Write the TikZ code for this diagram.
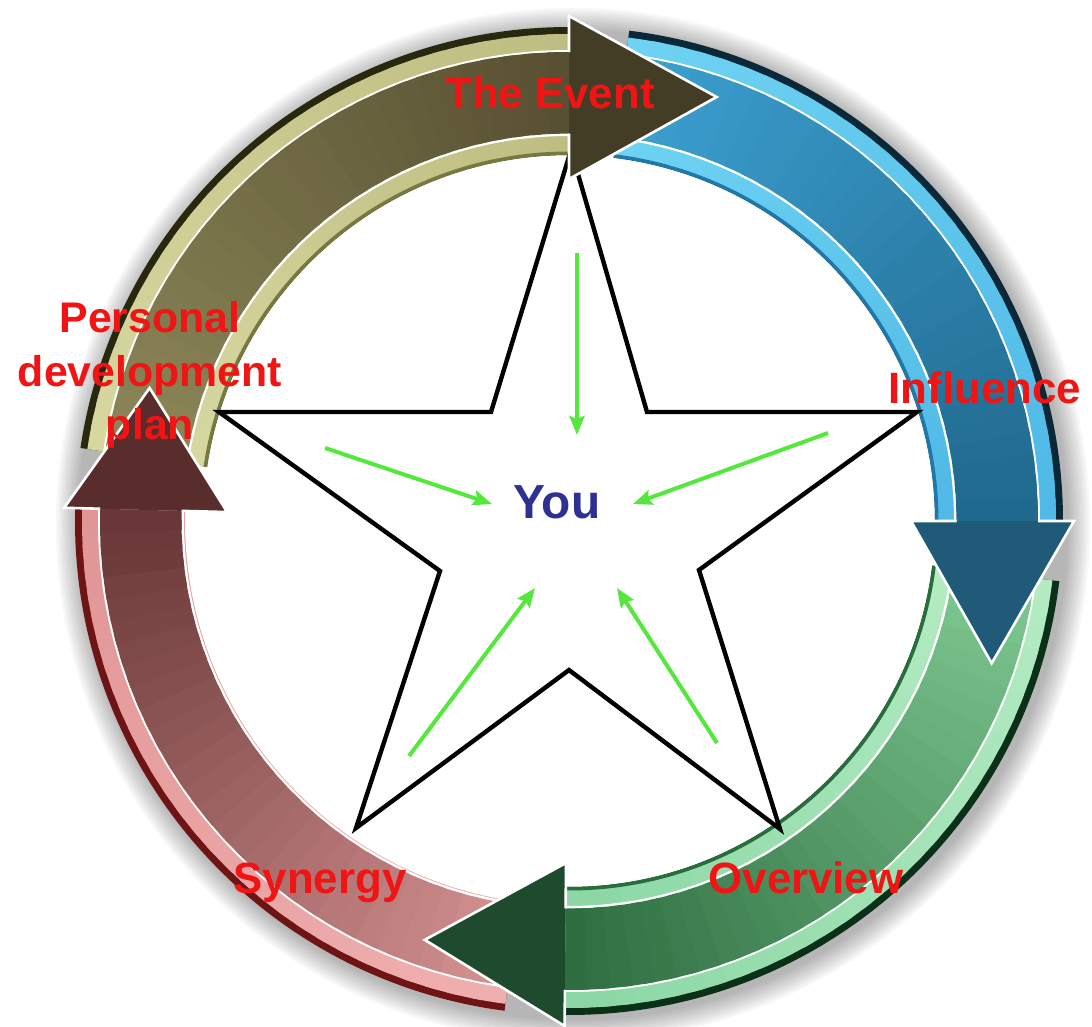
\documentclass[tikz,border=0pt]{standalone}
\usepackage{fontspec}
\setmainfont{Liberation Sans}
\usetikzlibrary{arrows.meta}
\definecolor{olEdge}{RGB}{40,40,15}
\definecolor{olRimA}{RGB}{215,215,160}
\definecolor{olRimB}{RGB}{190,190,130}
\definecolor{olShA}{RGB}{140,135,88}
\definecolor{olShB}{RGB}{88,80,50}
\definecolor{olInner}{RGB}{120,120,65}
\definecolor{olHead}{RGB}{67,61,38}
\definecolor{blEdge}{RGB}{10,40,56}
\definecolor{blRimA}{RGB}{110,210,242}
\definecolor{blRimB}{RGB}{80,185,230}
\definecolor{blShA}{RGB}{60,160,208}
\definecolor{blShB}{RGB}{32,105,142}
\definecolor{blInner}{RGB}{30,120,170}
\definecolor{blHead}{RGB}{31,90,120}
\definecolor{grEdge}{RGB}{10,48,24}
\definecolor{grRimA}{RGB}{180,235,195}
\definecolor{grRimB}{RGB}{140,215,165}
\definecolor{grShA}{RGB}{125,200,145}
\definecolor{grShB}{RGB}{47,110,65}
\definecolor{grInner}{RGB}{40,110,60}
\definecolor{grHead}{RGB}{30,75,45}
\definecolor{mrEdge}{RGB}{110,20,20}
\definecolor{mrRimA}{RGB}{240,175,175}
\definecolor{mrRimB}{RGB}{225,150,150}
\definecolor{mrShA}{RGB}{212,145,145}
\definecolor{mrShB}{RGB}{105,55,55}
\definecolor{mrInner}{RGB}{246,226,226}
\definecolor{mrHead}{RGB}{90,45,45}
\definecolor{labred}{RGB}{240,20,20}
\definecolor{youblue}{RGB}{46,49,146}
\definecolor{arrowgreen}{RGB}{85,232,60}
\newcommand\bandsector[4]{(#1:#3) -- (#1:#4) arc[start angle=#1, end angle=#2, radius=#4] -- (#2:#3) arc[start angle=#2, end angle=#1, radius=#3] -- cycle}
% #1 start angle, #2 end angle, #3 edge, #4 rimA, #5 rimB, #6 shaftA, #7 shaftB, #8 inner edge
\newcommand\drawband[8]{%
  \fill[#3] \bandsector{#1}{#2}{366}{494};
  \foreach \i in {0,...,29}{%
    \pgfmathsetmacro\aa{#1+(#2-#1)*\i/30}%
    \pgfmathsetmacro\bb{(\i==29)?(#2):(#1+(#2-#1)*(\i+1.5)/30)}%
    \pgfmathtruncatemacro\pp{100-\i*100/29}%
    \fill[#4!\pp!#5] \bandsector{\aa}{\bb}{369}{487};
  }%
  \fill[#8] \bandsector{#1}{#2}{366}{369.5};
  \fill[white] \bandsector{#1}{#2}{385}{471};
  \foreach \i in {0,...,29}{%
    \pgfmathsetmacro\aa{#1+(#2-#1)*\i/30}%
    \pgfmathsetmacro\bb{(\i==29)?(#2):(#1+(#2-#1)*(\i+1.5)/30)}%
    \pgfmathtruncatemacro\pp{100-\i*100/29}%
    \fill[#6!\pp!#7] \bandsector{\aa}{\bb}{387.5}{469};
  }%
}
% #1 base angle, #2 tip angle, #3 tip radius, #4 colour
\newcommand\drawhead[4]{%
  \fill[#4] (#1:342) -- (#2:#3) -- (#1:505) -- cycle;
  \draw[white, line width=2.6bp, line join=miter, line cap=butt] (#1:387.5) -- (#1:342) -- (#2:#3) -- (#1:505) -- (#1:469);
}
\tikzset{
  lab/.style={text=labred, font=\fontsize{44}{50}\selectfont\bfseries, inner sep=0pt, anchor=base},
  garrow/.style={draw=arrowgreen, line width=4bp, -{Stealth[length=19bp,width=15bp,inset=3bp]}},
  starline/.style={draw=black, line width=4.4bp, line join=miter}
}
\begin{document}
\begin{tikzpicture}[x=1bp,y=-1bp]
\useasboundingbox (0,0) rectangle (1092,1027);
\fill[white] (0,0) rectangle (1092,1027);
% soft shadow of the ring
\begin{scope}[shift={(573,525)}, yscale=-1]
  \foreach \k in {1,...,10}{
    \fill[black, opacity=0.03, even odd rule] (0,0) circle[radius={493+2.4*\k}] (0,0) circle[radius=470];
  }
\end{scope}
% ring of arrows
\begin{scope}[shift={(569,521)}, yscale=-1]
  \drawband{171.5}{90}{olEdge}{olRimA}{olRimB}{olShA}{olShB}{olInner}
  \drawband{83}{0}{blEdge}{blRimA}{blRimB}{blShA}{blShB}{blInner}
  \drawband{-7}{-90.5}{grEdge}{grRimA}{grRimB}{grShA}{grShB}{grInner}
  \drawband{262.5}{178.5}{mrEdge}{mrRimA}{mrRimB}{mrShA}{mrShB}{mrInner}
  \fill[white] \bandsector{262.5}{178.5}{360}{384};
\end{scope}
% star
\draw[starline] (571,150) -- (647,412) -- (917,412) -- (699,570) -- (780,829) -- (569,670) -- (356,828) -- (440,571) -- (219,412) -- (491,412) -- cycle;
% arrow heads on top
\begin{scope}[shift={(569,521)}, yscale=-1]
  \drawhead{90}{70.8}{449}{olHead}
  \drawhead{0}{-18.6}{446}{blHead}
  \drawhead{-90.5}{-109}{443}{grHead}
  \drawhead{178.5}{162.4}{440}{mrHead}
\end{scope}
% centre
\node[text=youblue, font=\fontsize{48}{54}\selectfont\bfseries, inner sep=0pt, anchor=base] (you) at (557,518) {You};
\coordinate (a1s) at (577,253); \coordinate (a1e) at (577,435);
\coordinate (a2s) at (828,433); \coordinate (a2e) at (633,504);
\coordinate (a3s) at (325,448); \coordinate (a3e) at (492,504);
\coordinate (a4s) at (409,756); \coordinate (a4e) at (535,588);
\coordinate (a5s) at (717,743); \coordinate (a5e) at (617,588);
\draw[garrow] (a1s) -- (a1e);
\draw[garrow] (a2s) -- (a2e);
\draw[garrow] (a3s) -- (a3e);
\draw[garrow] (a4s) -- (a4e);
\draw[garrow] (a5s) -- (a5e);
% labels
\node[lab] (ev) at (550,108) {The Event};
\node[lab] (inf) at (985,403) {Influence};
\node[lab, align=center, anchor=north, font=\fontsize{43}{54}\selectfont\bfseries] (pdp) at (150,301) {Personal\\development\\plan};
\node[lab] (syn) at (320,893) {Synergy};
\node[lab] (ov) at (806,893) {Overview};
\end{tikzpicture}
\end{document}
